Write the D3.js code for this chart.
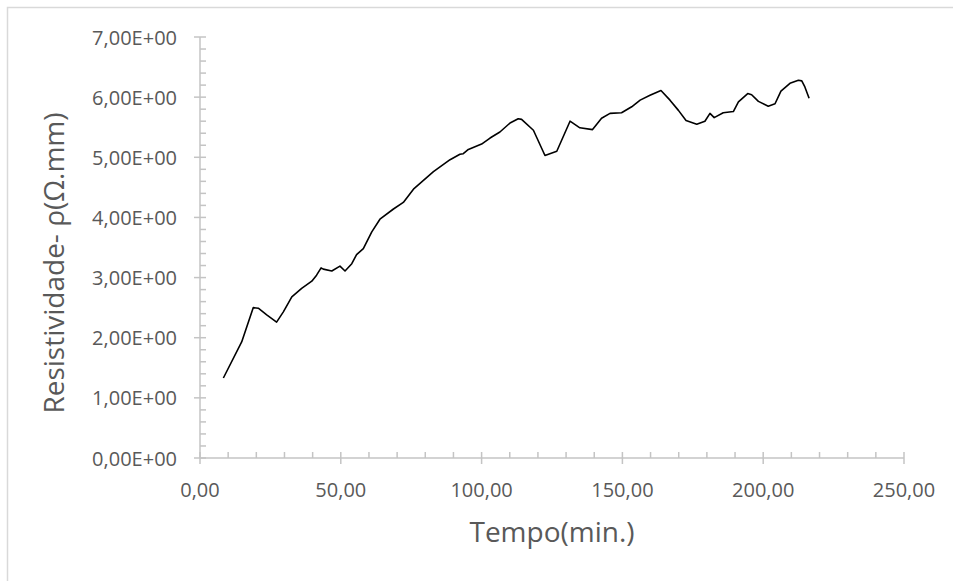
<!DOCTYPE html>
<html lang="pt">
<head>
<meta charset="UTF-8">
<title>Resistividade x Tempo</title>
<script src="https://d3js.org/d3.v7.min.js"></script>
<style>
  body { margin: 0; background: #fff; }
  text { font-family: "Open Sans", sans-serif; fill: #595959; }
</style>
</head>
<body>
<div id="chart"></div>
<script>
// -- Dados --
const tempo = [8.3, 14.8, 18.9, 20.7, 23.7, 27.2, 29.6, 32.6, 36.1, 39.7, 41.4, 43.0, 43.8, 46.8, 49.7, 51.5,
  53.9, 55.6, 58.0, 61.0, 63.9, 68.7, 72.2, 76.0, 82.9, 88.8, 92.3, 93.5, 95.3, 100.0, 103.0, 106.5,
  110.1, 113.0, 114.2, 118.4, 122.5, 126.7, 131.4, 134.9, 139.4, 142.6, 145.6, 149.7, 153.3, 156.3,
  159.8, 163.7, 166.9, 169.9, 172.6, 176.4, 179.3, 181.1, 182.6, 185.8, 189.4, 191.2, 194.5, 195.9,
  198.3, 201.8, 204.2, 206.3, 209.5, 212.5, 213.7, 214.8, 216.3];
const resistividade = [1.33, 1.93, 2.50, 2.49, 2.38, 2.26, 2.43, 2.68, 2.82, 2.94, 3.04, 3.16, 3.14, 3.11, 3.19, 3.11,
  3.23, 3.38, 3.48, 3.76, 3.97, 4.14, 4.25, 4.48, 4.76, 4.96, 5.05, 5.06, 5.13, 5.22, 5.32, 5.42,
  5.57, 5.64, 5.63, 5.45, 5.03, 5.10, 5.60, 5.49, 5.46, 5.65, 5.73, 5.74, 5.84, 5.95,
  6.03, 6.11, 5.95, 5.78, 5.61, 5.55, 5.60, 5.73, 5.66, 5.74, 5.76, 5.92, 6.06, 6.04,
  5.93, 5.85, 5.89, 6.10, 6.23, 6.28, 6.27, 6.17, 5.98];
const xTicks = [0, 50, 100, 150, 200, 250];
const yTicks = [0, 1, 2, 3, 4, 5, 6, 7];

const width = 953, height = 581;
const fmtX = d => d3.format(".2f")(d).replace(".", ",");
const fmtY = d => d3.format(".2f")(d).replace(".", ",") + "E+00";

const svg = d3.select("#chart").append("svg")
    .attr("width", width)
    .attr("height", height);

// -- Moldura do gráfico --
svg.append("rect")
    .attr("x", 7.5).attr("y", 7.5)
    .attr("width", width + 10).attr("height", height + 10)
    .attr("fill", "none").attr("stroke", "#d9d9d9").attr("stroke-width", 1.5);

const x = d3.scaleLinear().domain([0, 250]).range([200, 904]);
const y = d3.scaleLinear().domain([0, 7]).range([458, 37]);

const axisColor = "#c4c4c4";

// -- Eixo X --
const gx = svg.append("g");
gx.append("line")
    .attr("x1", x(0)).attr("x2", x(250))
    .attr("y1", y(0)).attr("y2", y(0))
    .attr("stroke", axisColor).attr("stroke-width", 1.5);
gx.selectAll(".minor").data(d3.range(0, 251, 10)).enter().append("line")
    .attr("x1", d => x(d)).attr("x2", d => x(d))
    .attr("y1", y(0) - 6).attr("y2", d => d % 50 === 0 ? y(0) + 6 : y(0))
    .attr("stroke", axisColor).attr("stroke-width", 1.5);
gx.selectAll("text").data(xTicks).enter().append("text")
    .attr("x", d => x(d)).attr("y", 497)
    .attr("text-anchor", "middle")
    .style("font-size", "20px")
    .text(fmtX);

// -- Eixo Y --
const gy = svg.append("g");
gy.append("line")
    .attr("x1", x(0)).attr("x2", x(0))
    .attr("y1", y(0)).attr("y2", y(7))
    .attr("stroke", axisColor).attr("stroke-width", 1.5);
gy.selectAll(".minor").data(d3.range(0, 36).map(i => i * 0.2)).enter().append("line")
    .attr("y1", d => y(d)).attr("y2", d => y(d))
    .attr("x1", (d, i) => i % 5 === 0 ? x(0) - 6 : x(0)).attr("x2", x(0) + 6)
    .attr("stroke", axisColor).attr("stroke-width", 1.5);
gy.selectAll("text").data(yTicks).enter().append("text")
    .attr("x", 177).attr("y", d => y(d))
    .attr("text-anchor", "end")
    .attr("dominant-baseline", "central")
    .style("font-size", "20px")
    .text(fmtY);

// -- Títulos dos eixos --
svg.append("text")
    .attr("x", 552).attr("y", 542)
    .attr("text-anchor", "middle")
    .style("font-size", "28px")
    .text("Tempo(min.)");
svg.append("text")
    .attr("transform", "translate(64,263) rotate(-90)")
    .attr("text-anchor", "middle")
    .style("font-size", "28px")
    .text("Resistividade- ρ(Ω.mm)");

// -- Curva --
const line = d3.line()
    .x(d => x(d[0]))
    .y(d => y(d[1]));
svg.append("path")
    .datum(d3.zip(tempo, resistividade))
    .attr("d", line)
    .attr("fill", "none")
    .attr("stroke", "#000")
    .attr("stroke-width", 1.6)
    .attr("stroke-linejoin", "round");
</script>
</body>
</html>
